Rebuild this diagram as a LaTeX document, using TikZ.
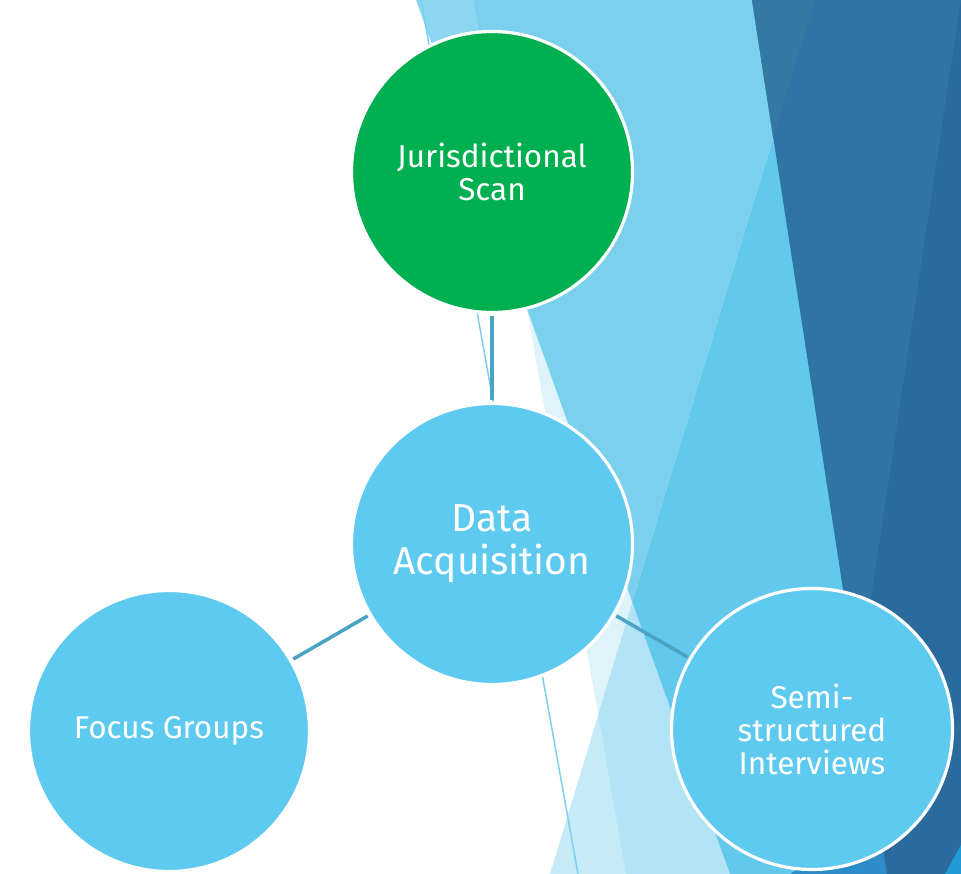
\documentclass[tikz,border=0pt]{standalone}
\usepackage{fontspec}
\setmainfont{Fira Sans}
\definecolor{bandA}{HTML}{8DD6F1}
\definecolor{bandB}{HTML}{DFF3FB}
\definecolor{bandAB}{HTML}{7BD0EE}
\definecolor{bandC}{HTML}{C5EAF8}
\definecolor{bandBC}{HTML}{B2E4F6}
\definecolor{bandABC}{HTML}{63C9EC}
\definecolor{deepA}{HTML}{2E75A5}
\definecolor{deepB}{HTML}{2A6A9C}
\definecolor{deepTop}{HTML}{3479A3}
\definecolor{brightblue}{HTML}{2D8DC9}
\definecolor{cornerblue}{HTML}{1F9BD6}
\definecolor{bubbleblue}{HTML}{5FCAEF}
\definecolor{scangreen}{HTML}{00AF50}
\definecolor{linkblue}{HTML}{4AA3C3}
\definecolor{thinline}{HTML}{7DCFEE}

\begin{document}
\begin{tikzpicture}[x=1pt, y=-1pt,
  bubble/.style={circle, draw=white, line width=3.2pt, minimum size=281pt,
    inner sep=0pt, align=center, text=white, font=\fontsize{31.5}{33}\selectfont},
  link/.style={draw=linkblue, line width=3.5pt, shorten <=1.5pt, shorten >=1.5pt}]
\useasboundingbox (0,0) rectangle (961,874);

% Background facets.
\fill[bandA] (416,0) -- (730,874) -- (961,874) -- (961,0) -- cycle;
\fill[bandB] (473,0) -- (626,874) -- (961,874) -- (961,0) -- cycle;
\begin{scope}
\clip (416,0) -- (730,874) -- (961,874) -- (961,0) -- cycle;
\fill[bandAB] (473,0) -- (626,874) -- (961,874) -- (961,0) -- cycle;
\end{scope}
\fill[bandC] (815,0) -- (550,874) -- (961,874) -- (961,0) -- cycle;
\begin{scope}
\clip (815,0) -- (550,874) -- (961,874) -- (961,0) -- cycle;
\fill[bandBC] (473,0) -- (626,874) -- (961,874) -- (961,0) -- cycle;
\clip (416,0) -- (730,874) -- (961,874) -- (961,0) -- cycle;
\fill[bandABC] (473,0) -- (626,874) -- (961,874) -- (961,0) -- cycle;
\end{scope}
\fill[brightblue] (790,874) -- (879,820) -- (887,874) -- cycle;
\fill[deepA] (752,0) -- (887,874) -- (961,874) -- (961,0) -- cycle;
\fill[deepTop] (752,0) -- (815,0) -- (773,137) -- cycle;
\fill[deepB] (961,0) -- (858,685) -- (887,874) -- (961,874) -- cycle;
\fill[cornerblue] (945,874) -- (961,845) -- (961,874) -- cycle;
\draw[thinline, line width=1.5pt] (421,0) -- (578,874);

% Circles.
\node[bubble, fill=scangreen] (scan) at (492,172) {Jurisdictional\\Scan};
\node[bubble, fill=bubbleblue, font=\fontsize{39}{43}\selectfont] (data) at (492,544) {Data\\Acquisition};
\node[bubble, fill=bubbleblue] (focus) at (169,731) {Focus Groups};
\node[bubble, fill=bubbleblue] (semi) at (812,729) {Semi-\\structured\\Interviews};

% Links.
\draw[link] (scan) -- (data);
\draw[link] (data) -- (focus);
\draw[link] (data) -- (semi);

\end{tikzpicture}
\end{document}
